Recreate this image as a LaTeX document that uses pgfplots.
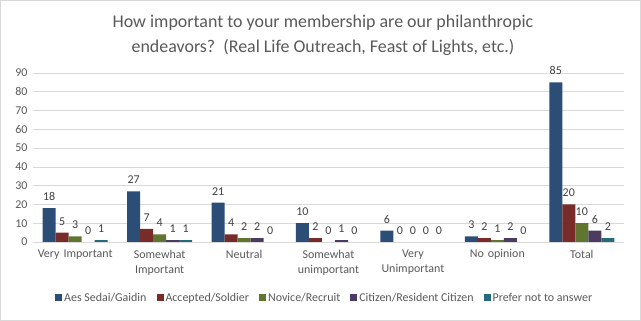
\documentclass[border=0pt]{standalone}
\usepackage{pgfplots}
\pgfplotsset{compat=1.18}
\usepackage{fontspec}
\setmainfont{Carlito}
\definecolor{c1}{HTML}{2C4D75}
\definecolor{c2}{HTML}{772C2A}
\definecolor{c3}{HTML}{5F7530}
\definecolor{c4}{HTML}{4D3B62}
\definecolor{c5}{HTML}{276A7C}
\definecolor{txt}{HTML}{595959}
\definecolor{lbl}{HTML}{404040}
\definecolor{gridc}{HTML}{D9D9D9}
\begin{document}
\begin{tikzpicture}
\useasboundingbox (0bp,0bp) rectangle (641bp,321bp);
\draw[gridc, line width=0.75bp] (0.5bp,0.5bp) rectangle (640.5bp,320.5bp);
\node[text=txt, align=center, font=\fontsize{18}{25}\selectfont] at (323bp,286bp) {How important to your membership are our philanthropic\\endeavors?\ \ (Real Life Outreach, Feast of Lights, etc.)};
\begin{axis}[
  at={(33bp,79bp)}, anchor=south west, scale only axis,
  width=591bp, height=169bp,
  ybar=0pt, bar width=0.154,
  xmin=-0.5, xmax=6.5, ymin=0, ymax=90,
  ytick={0,10,...,90},
  xtick={0,...,6},
  xticklabels={Very Important, Somewhat\\Important, Neutral, Somewhat\\unimportant, Very\\Unimportant, No opinion, Total},
  axis x line*=bottom, axis y line*=left,
  y axis line style={draw=none},
  x axis line style={draw=gridc, line width=0.75bp, -},
  major tick style={draw=none},
  ymajorgrids, grid style={gridc, line width=0.75bp},
  /pgf/number format/assume math mode=true,
  yticklabel style={text=txt, font=\fontsize{12}{12}\selectfont, xshift=-2bp},
  xticklabel style={text=txt, font=\fontsize{12}{15}\selectfont, align=center, text width=80bp},
  nodes near coords,
  every node near coord/.append style={text=lbl, font=\fontsize{12}{12}\selectfont, anchor=south, yshift=4bp},
  legend columns=5,
  legend style={draw=none, fill=none, at={(rel axis cs:0.4935,-0.331)}, anchor=center,
    font=\fontsize{12}{12}\selectfont, text=txt,
    /tikz/every even column/.append style={column sep=8bp}},
  legend image code/.code={\fill[#1] (0bp,-3.5bp) rectangle (7bp,3.5bp);},
]
\addplot[fill=c1, draw=none] coordinates {(0,18) (1,27) (2,21) (3,10) (4,6) (5,3) (6,85)};
\addplot[fill=c2, draw=none] coordinates {(0,5) (1,7) (2,4) (3,2) (4,0) (5,2) (6,20)};
\addplot[fill=c3, draw=none] coordinates {(0,3) (1,4) (2,2) (3,0) (4,0) (5,1) (6,10)};
\addplot[fill=c4, draw=none] coordinates {(0,0) (1,1) (2,2) (3,1) (4,0) (5,2) (6,6)};
\addplot[fill=c5, draw=none] coordinates {(0,1) (1,1) (2,0) (3,0) (4,0) (5,0) (6,2)};
\legend{Aes Sedai/Gaidin, Accepted/Soldier, Novice/Recruit, Citizen/Resident Citizen, Prefer not to answer}
\end{axis}
\end{tikzpicture}
\end{document}
